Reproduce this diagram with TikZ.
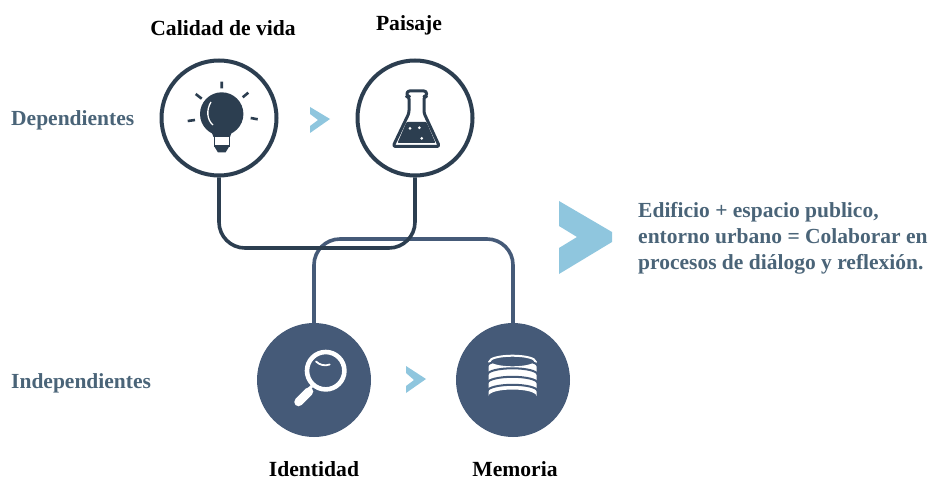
\documentclass[tikz,border=0pt]{standalone}
\usepackage{fontspec}
\setmainfont{Liberation Serif}
\definecolor{darkline}{HTML}{2C3E50}
\definecolor{blueline}{HTML}{455A78}
\definecolor{chevron}{HTML}{8FC6DE}
\definecolor{sidetext}{HTML}{4A6478}
\tikzset{
  ring/.style={circle,draw=darkline,line width=4pt,fill=white,minimum size=115pt,inner sep=0pt},
  disc/.style={circle,fill=blueline,minimum size=114pt,inner sep=0pt},
  title/.style={font=\bfseries\fontsize{21.6}{26}\selectfont,text=black,inner sep=0pt},
  side/.style={font=\bfseries\fontsize{21.5}{26}\selectfont,text=sidetext,inner sep=0pt},
  rail/.style={line width=3.6pt,rounded corners=26pt}
}
\begin{document}
\begin{tikzpicture}[x=1pt,y=-1pt]
    \useasboundingbox (0,0) rectangle (929,481);
    % Circles
    \node[ring] (bulb) at (219,118) {};
    \node[ring] (flask) at (415,118) {};
    \node[disc] (lens) at (314,380) {};
    \node[disc] (stack) at (513,380) {};
    % Rails
    \coordinate (lowrail) at (0,248);
    \coordinate (highrail) at (0,239);
    \draw[rail,blueline] (lens.north) -- (lens.north |- highrail) -- (stack.north |- highrail) -- (stack.north);
    \draw[rail,darkline] (bulb.south) -- (bulb.south |- lowrail) -- (flask.south |- lowrail) -- (flask.south);
    % Chevrons
    \fill[chevron] (310,107) -- (330,119) -- (310,133) -- (310,126) -- (318,120) -- (310,114) -- cycle;
    \fill[chevron] (406,366) -- (426,379) -- (406,393) -- (406,386) -- (414,380) -- (406,373) -- cycle;
    \fill[chevron] (559,201) -- (612,232) -- (612,242) -- (559,274) -- (559,248) -- (577,237) -- (559,226) -- cycle;
    % Labels
    \node[title] (tbulb) at (223,28) {Calidad de vida};
    \node[title] (tflask) at (409,25) {Paisaje};
    \node[title] (tlens) at (314,469.5) {Identidad};
    \node[title] (tstack) at (515,469.5) {Memoria};
    \node[side,anchor=west] (dep) at (11,120) {Dependientes};
    \node[side,anchor=west] (ind) at (11,383) {Independientes};
    \node[side,anchor=west,align=left] (note) at (638,238) {Edificio + espacio publico,\\entorno urbano = Colaborar en\\procesos de diálogo y reflexión.};
    % Bulb
    \fill[darkline] (221.7,114) circle (21.7);
    \fill[darkline] (210,128) -- (233,128) -- (230,137) -- (213.5,137) -- cycle;
    \draw[darkline,line width=1.5pt,fill=white] (214.5,136.5) rectangle (229.5,146);
    \fill[darkline] (214,146) -- (229.5,146) -- (225.5,152.5) -- (218,152.5) -- cycle;
    \draw[white,line width=1.3pt] (211,102) .. controls (206,110) and (207,120) .. (213,125);
    \draw[darkline,line width=2.6pt]
      (221.7,81.7) -- (221.7,88.3)
      (195.7,94) -- (201.7,98.7)
      (248.3,92.7) -- (242.7,97.3)
      (187.7,121) -- (195,120)
      (250.7,118) -- (257.7,119.3);
    % Flask
    \draw[darkline,line width=3pt,line join=round,rounded corners=2.5pt]
      (407,91) -- (426.5,91) -- (426.5,96.5) -- (424,96.5) -- (424,113) -- (439.5,146.5) -- (393,146.5) -- (409,113) -- (409,96.5) -- (407,96.5) -- cycle;
    \fill[darkline,rounded corners=1pt] (406.5,122) -- (426.5,122) -- (435.5,143) -- (397.5,143) -- cycle;
    \fill[white] (410,128.3) circle (1.5) (419.3,127.7) circle (1.5) (421.7,138.3) circle (1.5);
    % Magnifier
    \draw[white,line width=4.6pt] (325.7,370.7) circle (18.7);
    \draw[white,line width=1.8pt,line cap=round] (316,361.5) arc (135:70:13);
    \draw[white,line width=3pt] (312,386) -- (308,390);
    \draw[white,line width=8.5pt,line cap=round] (309,391.5) -- (298.5,402);
    % Database
    \fill[white] (488.5,361.5) -- (488.5,396) arc (180:360:24 and 6.5) -- (536.5,361.5) -- cycle;
    \draw[white,line width=2pt,fill=blueline] (512.5,361.5) ellipse (23 and 5.8);
    \foreach \y in {366,374.5,383,391}
      \draw[blueline,line width=2pt] (487.5,\y) arc (180:360:25 and 6.2);
\end{tikzpicture}
\end{document}
